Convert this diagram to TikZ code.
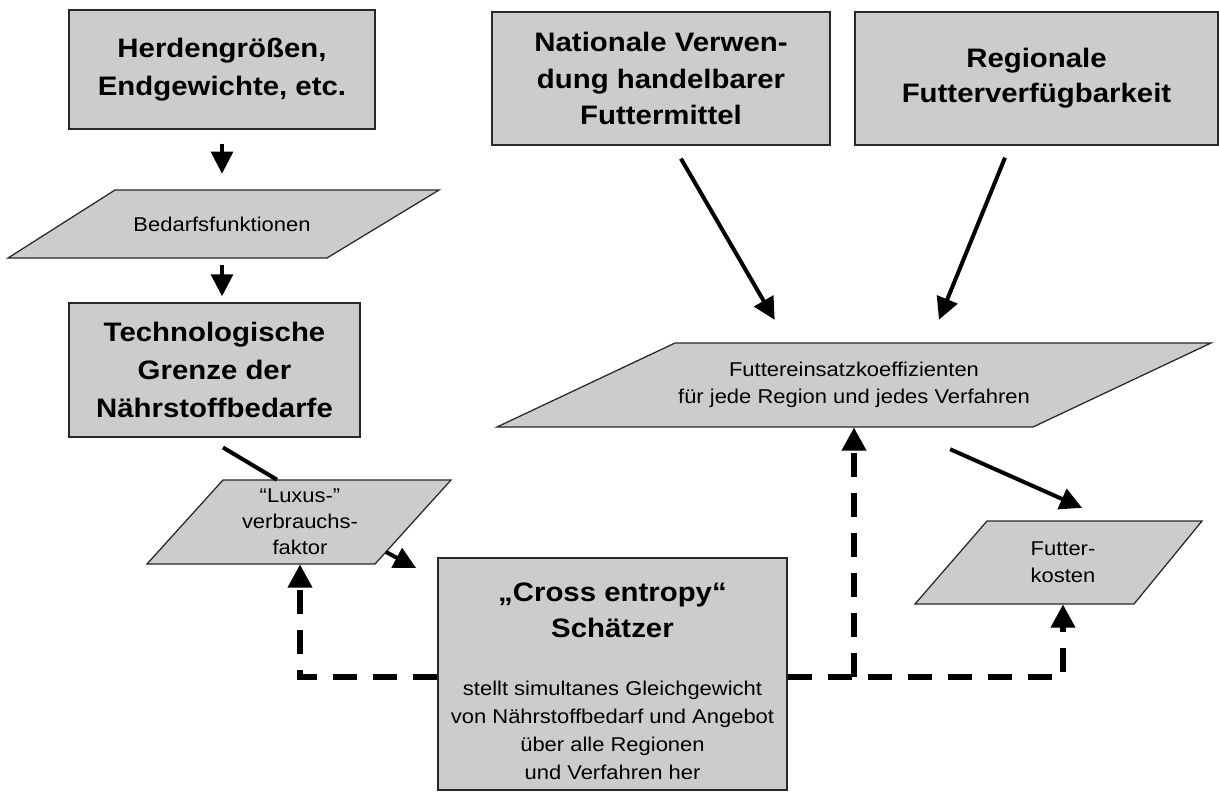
\documentclass[tikz,border=0pt]{standalone}
\usepackage{fontspec}
\setmainfont{Liberation Sans}[FakeStretch=1.1]
\usetikzlibrary{arrows.meta}
\usepackage{xcolor}
\definecolor{boxgray}{RGB}{204,204,204}
\definecolor{edgegray}{RGB}{40,40,40}

\tikzset{
  box/.style={draw=edgegray, fill=boxgray, line width=0.9pt, inner sep=0pt,
              align=center, font=\fontsize{19}{27}\selectfont\bfseries},
  para/.style={draw=edgegray, fill=boxgray, line width=0.9pt},
  paratext/.style={inner sep=0pt, align=center,
                   font=\fontsize{14.2}{19.5}\selectfont},
  flow/.style={line width=0.1cm, -{Triangle[length=0.55cm,width=0.54cm]}},
  feedback/.style={line width=0.15cm, dash pattern=on 0.6cm off 0.4cm,
                   -{Triangle[length=0.58cm,width=0.58cm]}},
}

\begin{document}
\begin{tikzpicture}[x=0.025cm,y=-0.025cm]

  \useasboundingbox (0,0) rectangle (1219,792);
  \fill[white] (0,0) rectangle (1219,792);

  % ── LEFT COLUMN: DEMAND SIDE ───────────────────────────────────────────────
  \node[box, minimum width=7.65cm, minimum height=2.975cm] (herd)
    at (222,69.5) {Herdengrößen,\\Endgewichte, etc.};

  \draw[para] (8,258) -- (115,190) -- (439,190) -- (327,258) -- cycle;
  \node[paratext, minimum height=1.7cm] (bedarf) at (222,224) {Bedarfsfunktionen};

  \node[box, minimum width=7.275cm, minimum height=3.35cm] (tech)
    at (214.5,370) {Technologische\\Grenze der\\Nährstoffbedarfe};

  \draw[para] (147,564) -- (223,480) -- (451,480) -- (375,564) -- cycle;
  \node[paratext, font=\fontsize{14.2}{18.5}\selectfont, minimum height=2.1cm] (luxus)
    at (300,522) {\raisebox{-0.1cm}{“Luxus-”}\\\raisebox{-0.1cm}{verbrauchs-}\\\raisebox{-0.1cm}{faktor}};

  % ── RIGHT COLUMN: SUPPLY SIDE ──────────────────────────────────────────────
  \node[box, font=\fontsize{19}{26}\selectfont\bfseries,
        minimum width=8.45cm, minimum height=3.325cm] (natio)
    at (661,78.5) {Nationale Verwen-\\dung handelbarer\\Futtermittel};

  \node[box, font=\fontsize{19}{25}\selectfont\bfseries,
        minimum width=9.075cm, minimum height=3.325cm] (region)
    at (1036.5,78.5) {Regionale\\Futterverfügbarkeit};

  \draw[para] (497,427) -- (675,343) -- (1211,343) -- (1033,427) -- cycle;
  \node[paratext, minimum height=2.1cm] (futter)
    at (854,385) {Futtereinsatzkoeffizienten\\für jede Region und jedes Verfahren};

  \draw[para] (915,604) -- (987,521) -- (1202,521) -- (1134,604) -- cycle;
  \node[paratext, minimum height=2.075cm] (kosten) at (1063,562.5) {Futter-\\kosten};

  % ── ESTIMATOR ──────────────────────────────────────────────────────────────
  \node[box, minimum width=8.725cm, minimum height=5.8cm] (cross) at (612.5,674) {};
  \node[inner sep=0pt, align=center, font=\fontsize{19}{25.6}\selectfont\bfseries]
    (crosshead) at (612.5,610) {„Cross entropy“\\Schätzer};
  \node[paratext, font=\fontsize{14.2}{19.9}\selectfont] (crossbody)
    at (612.5,730) {stellt simultanes Gleichgewicht\\von Nährstoffbedarf und Angebot\\über alle Regionen\\ und Verfahren her};

  % ── FLOW ARROWS ────────────────────────────────────────────────────────────
  \draw[flow, shorten <=0.35cm, shorten >=0.4cm] (herd.south) -- (bedarf.north);
  \draw[flow, shorten <=0.175cm, shorten >=0.15cm] (bedarf.south) -- (bedarf.south |- tech.north);
  \draw[line width=0.1cm, shorten <=0.48cm]
    ([xshift=-0.2cm]tech.south) -- ([xshift=-0.575cm]luxus.north);
  \draw[flow, shorten >=0.6cm]
    ([xshift=2.15cm,yshift=-0.75cm]luxus.center) -- ([yshift=-0.55cm]cross.north west);

  \draw[flow, shorten <=0.375cm, shorten >=0.66cm]
    ([xshift=0.31cm]natio.south) -- ([xshift=-1.65cm]futter.north);
  \draw[flow, shorten <=0.325cm, shorten >=0.62cm]
    ([xshift=-0.665cm]region.south) -- ([xshift=1.89cm]futter.north);
  \draw[flow, shorten <=1.35cm, shorten >=0.79cm]
    ([xshift=1.17cm]futter.south) -- ([xshift=1.2cm]kosten.north);

  % ── FEEDBACK (dashed) ──────────────────────────────────────────────────────
  \coordinate (lfoot) at ([yshift=-0.075cm]cross.west);
  \coordinate (rfoot) at ([yshift=-0.075cm]cross.east);
  \draw[feedback] (lfoot) -| (luxus.south);
  \draw[feedback] (rfoot) -| (kosten.south);
  \draw[feedback] (futter.south |- rfoot) -- (futter.south);

\end{tikzpicture}
\end{document}
